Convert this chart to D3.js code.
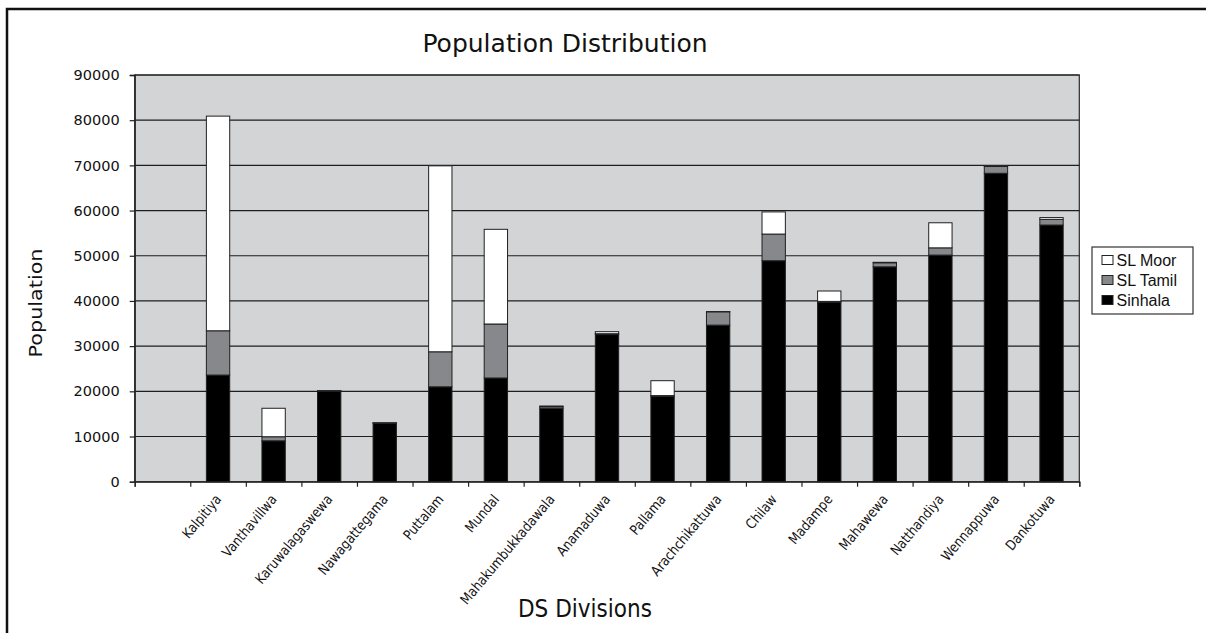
<!DOCTYPE html>
<html>
<head>
<meta charset="utf-8">
<script src="https://cdn.jsdelivr.net/npm/d3@7"></script>
<style>
  html, body { margin: 0; padding: 0; background: #ffffff; }
  svg { display: block; }
</style>
</head>
<body>
<svg id="chart" width="1206" height="633"></svg>
<script>
// ---------------- data ----------------
const categories = ["Kalpitiya", "Vanthavillwa", "Karuwalagaswewa", "Nawagattegama", "Puttalam", "Mundal",
  "Mahakumbukkadawala", "Anamaduwa", "Pallama", "Arachchikattuwa", "Chilaw", "Madampe", "Mahawewa",
  "Natthandiya", "Wennappuwa", "Dankotuwa"];
const sinhala = [23600, 9050, 20050, 12950, 21000, 22950, 16250, 32550, 18900, 34650, 48900, 39750, 47550, 50150, 68250, 56800];
const slTamil = [9800, 900, 50, 50, 7750, 11950, 350, 200, 150, 2950, 5900, 150, 900, 1600, 1500, 1250];
const slMoor = [47500, 6300, 50, 50, 41150, 20950, 150, 450, 3300, 50, 4900, 2300, 100, 5550, 200, 400];
const seriesNames = ["Sinhala", "SL Tamil", "SL Moor"];
const legendOrder = ["SL Moor", "SL Tamil", "Sinhala"];
const yTicks = [0, 10000, 20000, 30000, 40000, 50000, 60000, 70000, 80000, 90000];
const titleText = "Population Distribution";
const xTitle = "DS Divisions";
const yTitle = "Population";

// ---------------- layout ----------------
const plot = { left: 134.7, right: 1079.3, top: 75, bottom: 481.7 };
const colors = { "Sinhala": "#000000", "SL Tamil": "#87888b", "SL Moor": "#ffffff" };
const svg = d3.select("#chart");

// outer frame (right and bottom edges fall outside the picture, as in the reference)
svg.append("rect").attr("x", 7).attr("y", 9).attr("width", 1205).attr("height", 640)
  .attr("fill", "#ffffff").attr("stroke", "#111").attr("stroke-width", 2.5);

const domain = [""].concat(categories);   // leading empty slot as in the reference
const x = d3.scaleBand().domain(domain).range([plot.left, plot.right]).paddingInner(0.58).paddingOuter(0.29);
const xEdges = d3.scaleLinear().domain([0, domain.length]).range([plot.left, plot.right]);
const y = d3.scaleLinear().domain([0, 90000]).range([plot.bottom, plot.top]);

// plot background
svg.append("rect").attr("x", plot.left).attr("y", plot.top)
  .attr("width", plot.right - plot.left).attr("height", plot.bottom - plot.top)
  .attr("fill", "#d3d4d6").attr("stroke", "#2a2a2a").attr("stroke-width", 1.2);

// gridlines
svg.append("g").selectAll("line").data(yTicks.filter(d => d > 0)).join("line")
  .attr("x1", plot.left).attr("x2", plot.right)
  .attr("y1", d => y(d)).attr("y2", d => y(d))
  .attr("stroke", "#1e1e1e").attr("stroke-width", 1.2);

// stacked bars
const rows = categories.map((c, i) => ({ cat: c, "Sinhala": sinhala[i], "SL Tamil": slTamil[i], "SL Moor": slMoor[i] }));
const stacked = d3.stack().keys(seriesNames)(rows);
svg.append("g").selectAll("g").data(stacked).join("g")
  .attr("fill", s => colors[s.key])
  .selectAll("rect").data(s => s).join("rect")
  .attr("x", d => x(d.data.cat))
  .attr("width", x.bandwidth())
  .attr("y", d => y(d[1]))
  .attr("height", d => y(d[0]) - y(d[1]))
  .attr("stroke", "#202020").attr("stroke-width", 1);

// y axis
const yAxis = svg.append("g").attr("transform", `translate(${plot.left},0)`)
  .call(d3.axisLeft(y).tickValues(yTicks).tickFormat(d3.format("d")).tickSize(5).tickPadding(10));
yAxis.select(".domain").attr("stroke", "#222").attr("stroke-width", 1.3);
yAxis.selectAll(".tick line").attr("stroke", "#222").attr("stroke-width", 1.2);
yAxis.selectAll(".tick text").attr("font-family", "DejaVu Sans, Verdana, sans-serif")
  .attr("font-size", 14.5).attr("fill", "#111");

// x axis (ticks at category boundaries)
const xAxis = svg.append("g").attr("transform", `translate(0,${plot.bottom})`)
  .call(d3.axisBottom(xEdges).tickValues(d3.range(0, domain.length + 1)).tickFormat("").tickSize(5));
xAxis.select(".domain").attr("stroke", "#222").attr("stroke-width", 1.3);
xAxis.selectAll(".tick line").attr("stroke", "#222").attr("stroke-width", 1.2);

// x tick labels (rotated, condensed)
svg.append("g").selectAll("text").data(categories).join("text")
  .attr("transform", d => `translate(${x(d) + x.bandwidth() / 2 + 4},${plot.bottom + 18}) rotate(-50) scale(0.86,1)`)
  .attr("text-anchor", "end")
  .attr("font-family", "DejaVu Sans, Verdana, sans-serif")
  .attr("font-size", 14).attr("fill", "#111")
  .text(d => d);

// title
svg.append("text").attr("x", 565).attr("y", 52).attr("text-anchor", "middle")
  .attr("font-family", "DejaVu Sans, Verdana, sans-serif").attr("font-size", 25).attr("fill", "#111")
  .text(titleText);

// axis titles
svg.append("text").attr("transform", `translate(585,617) scale(1,1.17)`).attr("text-anchor", "middle")
  .attr("font-family", "DejaVu Sans, Verdana, sans-serif").attr("font-size", 21.6).attr("fill", "#111")
  .text(xTitle);
svg.append("text").attr("transform", `translate(42,303) scale(1,1.22) rotate(-90)`).attr("text-anchor", "middle")
  .attr("font-family", "DejaVu Sans, Verdana, sans-serif").attr("font-size", 17).attr("fill", "#111")
  .text(yTitle);

// legend
const lg = svg.append("g");
lg.append("rect").attr("x", 1092).attr("y", 247).attr("width", 101).attr("height", 67)
  .attr("fill", "#ffffff").attr("stroke", "#333").attr("stroke-width", 1.2);
const items = lg.selectAll("g.item").data(legendOrder).join("g").attr("class", "item")
  .attr("transform", (d, i) => `translate(1102,${260 + i * 20})`);
items.append("rect").attr("x", 0).attr("y", -4.5).attr("width", 11).attr("height", 9)
  .attr("fill", d => colors[d]).attr("stroke", "#222").attr("stroke-width", 1);
items.append("text").attr("x", 14.5).attr("y", 0).attr("dy", "0.36em")
  .attr("font-family", "Liberation Sans, Arial, sans-serif").attr("font-size", 16).attr("fill", "#111")
  .text(d => d);
</script>
</body>
</html>
